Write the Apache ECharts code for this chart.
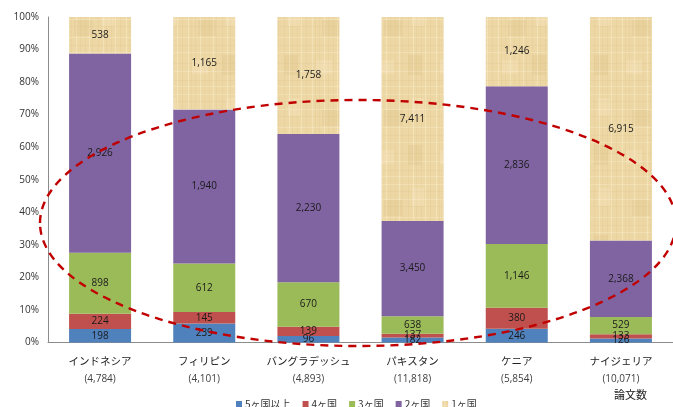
<!DOCTYPE html>
<html>
<head>
<meta charset="utf-8">
<script src="https://cdn.jsdelivr.net/npm/echarts@6/dist/echarts.min.js"></script>
<style>
  html, body { margin: 0; padding: 0; background: #fff; }
  #chart { width: 673px; height: 407px; }
</style>
</head>
<body>
<div id="chart"></div>
<script>
// Countries and total paper counts
const countries = ['インドネシア', 'フィリピン', 'バングラデッシュ', 'パキスタン', 'ケニア', 'ナイジェリア'];
const totals = [4784, 4101, 4893, 11818, 5854, 10071];

// Papers by number of collaborating countries
const seriesNames = ['5ヶ国以上', '4ヶ国', '3ヶ国', '2ヶ国', '1ヶ国'];
const fivePlus = [198, 239, 96, 182, 246, 126];
const four = [224, 145, 139, 137, 380, 133];
const three = [898, 612, 670, 638, 1146, 529];
const two = [2926, 1940, 2230, 3450, 2836, 2368];
const one = [538, 1165, 1758, 7411, 1246, 6915];

const yTicks = [0, 10, 20, 30, 40, 50, 60, 70, 80, 90, 100];

const fmt = n => n.toLocaleString('en-US');

// Parchment-like fill for the single-country segment
function parchment() {
  const c = document.createElement('canvas');
  c.width = 62; c.height = 90;
  const g = c.getContext('2d');
  g.fillStyle = '#EDD7A4';
  g.fillRect(0, 0, 62, 90);
  const vx = [2, 5, 9, 14, 18, 23, 27, 30, 36, 41, 44, 49, 53, 58];
  vx.forEach((x, i) => {
    g.fillStyle = i % 3 === 0 ? 'rgba(255,246,220,0.35)' : 'rgba(214,186,125,0.16)';
    g.fillRect(x, 0, 1, 90);
  });
  const hy = [4, 11, 19, 26, 37, 45, 52, 63, 71, 80, 86];
  hy.forEach((y, i) => {
    g.fillStyle = i % 2 ? 'rgba(214,186,125,0.14)' : 'rgba(255,248,228,0.28)';
    g.fillRect(0, y, 62, 1);
  });
  g.fillStyle = 'rgba(205,176,110,0.12)';
  g.fillRect(12, 20, 18, 16);
  g.fillRect(36, 55, 14, 20);
  g.fillStyle = 'rgba(255,245,220,0.18)';
  g.fillRect(40, 8, 12, 18);
  g.fillRect(6, 60, 16, 14);
  return c;
}

const colors = ['#4F81BD', '#C0504D', '#9BBB59', '#8064A2', { image: parchment(), repeat: 'repeat' }];
const raw = [fivePlus, four, three, two, one];

const chart = echarts.init(document.getElementById('chart'), null, { renderer: 'canvas' });

const series = raw.map((arr, si) => ({
  name: seriesNames[si],
  type: 'bar',
  stack: 'share',
  barWidth: 62,
  itemStyle: { color: colors[si] },
  label: {
    show: true,
    position: 'inside',
    color: '#1a1a1a',
    fontSize: 10,
    fontFamily: 'Open Sans, sans-serif',
    formatter: p => fmt(arr[p.dataIndex])
  },
  data: arr.map((v, i) => {
    const sum = fivePlus[i] + four[i] + three[i] + two[i] + one[i];
    return v / sum * 100;
  })
}));

chart.setOption({
  animation: false,
  color: ['#4F81BD', '#C0504D', '#9BBB59', '#8064A2', '#EBD5A2'],
  grid: { left: 48, right: -10, top: 17, bottom: 64.5, containLabel: false },
  legend: {
    bottom: -7,
    left: 231,
    itemWidth: 6,
    itemHeight: 6,
    itemGap: 12,
    icon: 'rect',
    textStyle: { fontSize: 10, color: '#333', fontFamily: 'Noto Sans CJK JP', padding: [0, 0, 0, -2] },
    data: seriesNames
  },
  xAxis: {
    type: 'category',
    data: countries,
    axisLine: { lineStyle: { color: '#8c8c8c', width: 1 } },
    axisTick: { show: false },
    axisLabel: {
      interval: 0,
      margin: 10,
      formatter: (v, i) => '{n|' + v + '}\n{t|(' + fmt(totals[i]) + ')}',
      rich: {
        n: { fontSize: 10.5, color: '#222', fontFamily: 'Noto Sans CJK JP', lineHeight: 18 },
        t: { fontSize: 10, color: '#404040', fontFamily: 'Open Sans, sans-serif', lineHeight: 18 }
      }
    }
  },
  yAxis: {
    type: 'value',
    min: yTicks[0],
    max: yTicks[yTicks.length - 1],
    interval: 10,
    axisLine: { show: true, lineStyle: { color: '#8c8c8c', width: 1 } },
    axisTick: { show: false },
    splitLine: { show: false },
    axisLabel: {
      margin: 9,
      fontSize: 10,
      color: '#333',
      fontFamily: 'Open Sans, sans-serif',
      formatter: v => v + '%'
    }
  },
  series: series,
  graphic: [
    {
      type: 'ellipse',
      shape: { cx: 358, cy: 223, rx: 318, ry: 123 },
      style: { fill: null, stroke: '#C00000', lineWidth: 2.4, lineDash: [8, 6] },
      z: 100
    },
    {
      type: 'text',
      left: 614,
      top: 389,
      style: { text: '論文数', fontSize: 11, fill: '#222', fontFamily: 'Noto Sans CJK JP' }
    }
  ]
});
</script>
</body>
</html>
